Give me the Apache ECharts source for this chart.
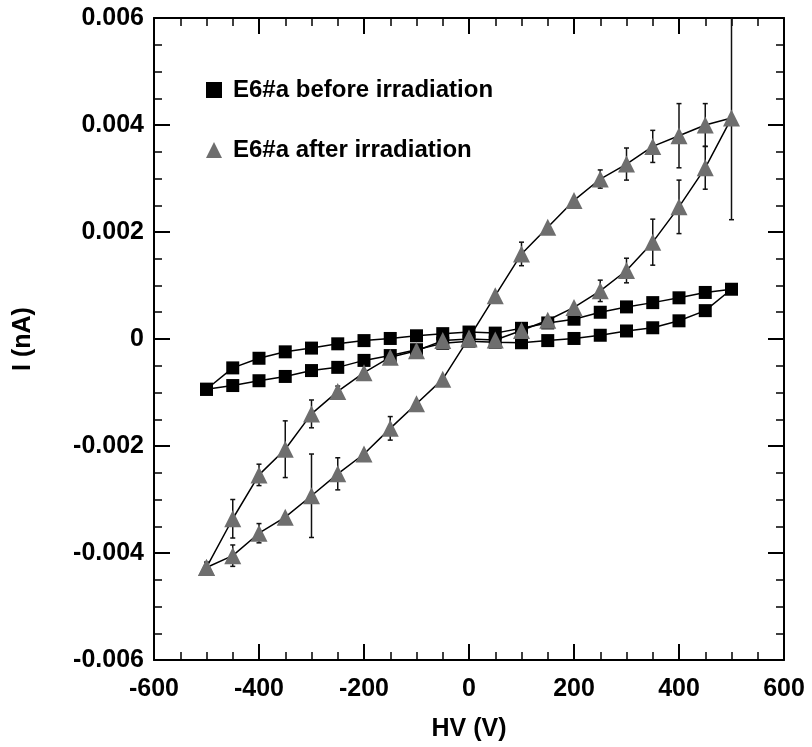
<!DOCTYPE html>
<html>
<head>
	<meta charset="utf-8" />
	<title></title>
	<script src="https://cdn.jsdelivr.net/npm/echarts@6/dist/echarts.min.js"></script>
</head>
<body>
	<div id="main" style="width: 812px; height: 747px;"></div>
</body>
<style>
	body{
		padding: 0px;
		margin: 0px;
	}
</style>
<script type="text/javascript">
	// HV steps (V)
	var hv = [-500,-450,-400,-350,-300,-250,-200,-150,-100,-50,0,50,100,150,200,250,300,350,400,450,500]

	// E6#a before irradiation, two branches of the loop (nA)
	var beforeUp  = [-0.00094,-0.00054,-0.00036,-0.00024,-0.00017,-0.00009,-0.00003,0.00001,0.00006,0.0001,0.00013,0.00011,0.0002,0.0003,0.00037,0.0005,0.0006,0.00068,0.00077,0.00087,0.00093]
	var beforeLow = [-0.00094,-0.00087,-0.00078,-0.0007,-0.00059,-0.00053,-0.0004,-0.00031,-0.0002,-0.00008,-0.00004,-0.00006,-0.00007,-0.00003,0.00001,0.00007,0.00015,0.00021,0.00034,0.00053,0.00093]

	// E6#a after irradiation, two branches + error bars (nA)
	var afterSteep   = [-0.00427,-0.00405,-0.00363,-0.00333,-0.00293,-0.00252,-0.00215,-0.00167,-0.00121,-0.00075,0.00002,0.00081,0.00159,0.00209,0.00259,0.00299,0.00327,0.0036,0.0038,0.004,0.00413]
	var errSteep     = [0.0001,0.0002,0.00018,0,0.00078,0.0003,0,0.00022,0,0,0,0,0.00022,0,0,0.00017,0.0003,0.0003,0.0006,0.0004,0.0019]
	var afterShallow = [-0.00427,-0.00336,-0.00254,-0.00206,-0.0014,-0.00098,-0.00063,-0.00034,-0.00022,-0.00003,0,-0.00002,0.00016,0.00035,0.00059,0.0009,0.00128,0.00181,0.00247,0.0032,0.00413]
	var errShallow   = [0.0001,0.00036,0.0002,0.00053,0.00026,0.0001,0,0,0.0001,0,0,0,0,0,0,0.0002,0.00023,0.00043,0.0005,0.0004,0.0019]

	var xTicks = [-600,-400,-200,0,200,400,600]
	var yTicks = [-0.006,-0.004,-0.002,0,0.002,0.004,0.006]

	var font = 'Liberation Sans, Arial, Helvetica, sans-serif'

	// loop order: one branch up, the other back down
	function loop(a, b) {
		var out = []
		for (var i = 0; i < hv.length; i++) out.push([hv[i], a[i]])
		for (var j = hv.length - 2; j >= 0; j--) out.push([hv[j], b[j]])
		return out
	}

	var errData = []
	for (var i = 0; i < hv.length; i++) {
		if (errSteep[i] > 0) errData.push([hv[i], afterSteep[i], errSteep[i]])
		if (errShallow[i] > 0 && i !== 0 && i !== hv.length - 1) errData.push([hv[i], afterShallow[i], errShallow[i]])
	}

	function axisBase(isX, show) {
		return {
			type: 'value',
			min: isX ? xTicks[0] : yTicks[0],
			max: isX ? xTicks[xTicks.length - 1] : yTicks[yTicks.length - 1],
			interval: isX ? 200 : 0.002,
			axisLine: { show: true, onZero: false, lineStyle: { color: '#000', width: 2 } },
			axisTick: { show: true, inside: true, length: 16, lineStyle: { color: '#000', width: 2 } },
			minorTick: { show: true, splitNumber: 4, length: 8, lineStyle: { color: '#000', width: 1.5 } },
			splitLine: { show: false },
			axisLabel: {
				show: show,
				color: '#000',
				fontSize: 25,
				fontWeight: 'bold',
				fontFamily: font,
				margin: isX ? 17 : 10,
				formatter: function (v) {
					if (Math.abs(v) < 1e-9) return '0'
					return isX ? String(Math.round(v)) : v.toFixed(3)
				}
			}
		}
	}

	var xBottom = axisBase(true, true)
	xBottom.position = 'bottom'
	xBottom.name = 'HV (V)'
	xBottom.nameLocation = 'middle'
	xBottom.nameGap = 57
	xBottom.nameTextStyle = { color: '#000', fontSize: 25, fontWeight: 'bold', fontFamily: font }
	var xTop = axisBase(true, false)
	xTop.position = 'top'

	var yLeft = axisBase(false, true)
	yLeft.position = 'left'
	yLeft.name = 'I (nA)'
	yLeft.nameLocation = 'middle'
	yLeft.nameGap = 118
	yLeft.nameTextStyle = { color: '#000', fontSize: 25, fontWeight: 'bold', fontFamily: font }
	var yRight = axisBase(false, false)
	yRight.position = 'right'

	var mychart = echarts.init(document.getElementById('main'))

	mychart.setOption({
		animation: false,
		backgroundColor: '#fff',
		grid: { left: 154, right: 28, top: 18, bottom: 85 },
		legend: {
			orient: 'vertical',
			left: 201,
			top: 73,
			itemGap: 36,
			itemWidth: 16,
			itemHeight: 16,
			textStyle: { color: '#000', fontSize: 24, fontWeight: 'bold', fontFamily: font, padding: [0, 0, 0, 6] },
			data: [
				{ name: 'E6#a before irradiation', icon: 'rect' },
				{ name: 'E6#a after irradiation', icon: 'triangle' }
			]
		},
		xAxis: [xBottom, xTop],
		yAxis: [yLeft, yRight],
		series: [
			{
				name: 'E6#a before irradiation',
				type: 'line',
				data: loop(beforeLow, beforeUp),
				symbol: 'rect',
				symbolSize: 13,
				itemStyle: { color: '#000' },
				lineStyle: { color: '#000', width: 1.5 },
				z: 2
			},
			{
				name: 'errbars',
				type: 'custom',
				data: errData,
				clip: true,
				z: 3,
				renderItem: function (params, api) {
					var x = api.value(0), y = api.value(1), e = api.value(2)
					var top = api.coord([x, y + e])
					var bot = api.coord([x, y - e])
					var c = 2.5
					var st = { stroke: '#111', lineWidth: 1.5 }
					return {
						type: 'group',
						children: [
							{ type: 'line', shape: { x1: top[0], y1: top[1], x2: bot[0], y2: bot[1] }, style: st },
							{ type: 'line', shape: { x1: top[0] - c, y1: top[1], x2: top[0] + c, y2: top[1] }, style: st },
							{ type: 'line', shape: { x1: bot[0] - c, y1: bot[1], x2: bot[0] + c, y2: bot[1] }, style: st }
						]
					}
				}
			},
			{
				name: 'E6#a after irradiation',
				type: 'line',
				data: loop(afterSteep, afterShallow),
				symbol: 'triangle',
				symbolSize: 17,
				itemStyle: { color: '#6e6e6e' },
				lineStyle: { color: '#000', width: 1.5 },
				z: 4
			}
		]
	})
</script>
</html>
